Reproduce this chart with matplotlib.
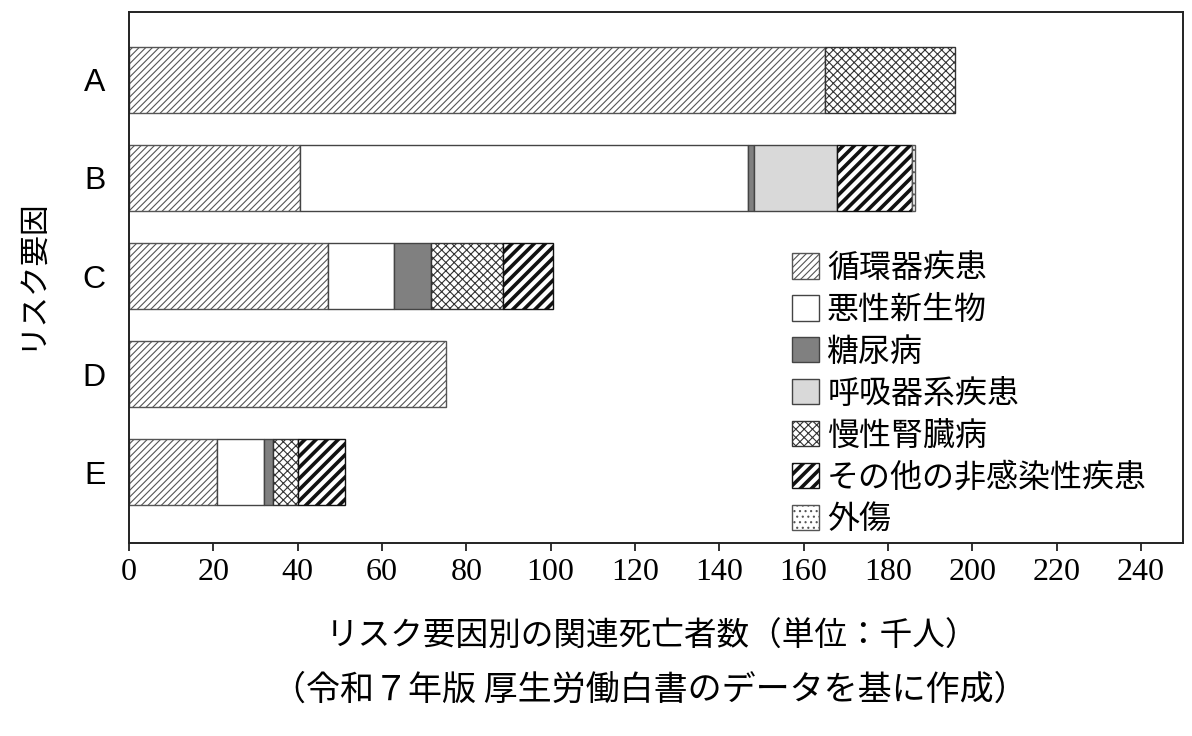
import matplotlib
matplotlib.use('Agg')
import matplotlib.pyplot as plt
from matplotlib.patches import Patch
import numpy as np

# リスク要因 A-E
factors = ['A', 'B', 'C', 'D', 'E']
labels = ['循環器疾患', '悪性新生物', '糖尿病', '呼吸器系疾患', '慢性腎臓病', 'その他の非感染性疾患', '外傷']

# 関連死亡者数（千人）
circulatory = [165.2, 40.5, 47.2, 75.3, 20.8]
cancer      = [0.0, 106.4, 15.7, 0.0, 11.3]
diabetes    = [0.0, 1.4, 8.8, 0.0, 2.1]
respiratory = [0.0, 19.7, 0.0, 0.0, 0.0]
kidney      = [30.8, 0.0, 17.0, 0.0, 5.8]
other_ncd   = [0.0, 17.8, 11.8, 0.0, 11.3]
injury      = [0.0, 0.6, 0.0, 0.0, 0.0]

series = [circulatory, cancer, diabetes, respiratory, kidney, other_ncd, injury]
styles = [
    dict(color='white', hatch='/////', edgecolor='#555555', hlw=0.8),
    dict(color='white', hatch=None, edgecolor='#444444', hlw=1.0),
    dict(color='#808080', hatch=None, edgecolor='#444444', hlw=1.0),
    dict(color='#d9d9d9', hatch=None, edgecolor='#444444', hlw=1.0),
    dict(color='white', hatch='xxxx', edgecolor='#333333', hlw=0.8),
    dict(color='white', hatch='///', edgecolor='#111111', hlw=2.6),
    dict(color='white', hatch='...', edgecolor='#555555', hlw=0.8),
]

jp = ['Noto Sans CJK JP', 'DejaVu Sans']

fig = plt.figure(figsize=(11.92, 7.36), dpi=100)
ax = fig.add_axes([129/1192, 1-543/736, 1054/1192, 531/736])

y = np.arange(len(factors))
left = np.zeros(len(factors))
handles = []
for vals, st, lab in zip(series, styles, labels):
    vals = np.array(vals)
    bars = ax.barh(y, vals, left=left, height=0.67, color=st['color'],
                   edgecolor=st['edgecolor'], hatch=st['hatch'], linewidth=1.0)
    for r, v in zip(bars, vals):
        if hasattr(r, 'set_hatch_linewidth'):
            r.set_hatch_linewidth(st['hlw'])
        if v == 0:
            r.set_visible(False)
    h = Patch(facecolor=st['color'], edgecolor=st['edgecolor'], hatch=st['hatch'],
              linewidth=1.0, label=lab)
    handles.append(h)
    left += vals

ax.set_xlim(0, 250)
ax.set_ylim(4.72, -0.69)
ax.set_xticks(np.arange(0, 241, 20))
ax.set_xticklabels([str(v) for v in range(0, 241, 20)], fontsize=23, family=['Liberation Serif'])
ax.set_yticks(y)
ax.set_yticklabels(factors, fontsize=23, family=['Liberation Sans'])
ax.tick_params(axis='x', direction='out', length=6, width=1.3, pad=5, color='#222222')
ax.tick_params(axis='y', length=0, pad=17)
for s in ax.spines.values():
    s.set_linewidth(1.4)
    s.set_color('#222222')

leg = ax.legend(handles=handles, loc='upper left', bbox_to_anchor=(792/1192, 1-252/736),
                bbox_transform=fig.transFigure, frameon=False, prop={'family': jp, 'size': 23},
                handlelength=0.85, handleheight=0.85, handletextpad=0.25,
                labelspacing=0.31, borderpad=0, borderaxespad=0)
for p, st in zip(leg.get_patches(), styles):
    if hasattr(p, 'set_hatch_linewidth'):
        p.set_hatch_linewidth(st['hlw'])

fig.text(30/1192, 1-274/736, 'リスク要因', rotation=90, ha='center', va='center',
         fontsize=22, family=jp)
fig.text(652/1192, 1-637/736, 'リスク要因別の関連死亡者数（単位：千人）', ha='center', va='center',
         fontsize=23.5, family=jp)
fig.text(650/1192, 1-690/736, '（令和７年版 厚生労働白書のデータを基に作成）', ha='center', va='center',
         fontsize=24.5, family=jp)

fig.savefig('out.png', dpi=100)
